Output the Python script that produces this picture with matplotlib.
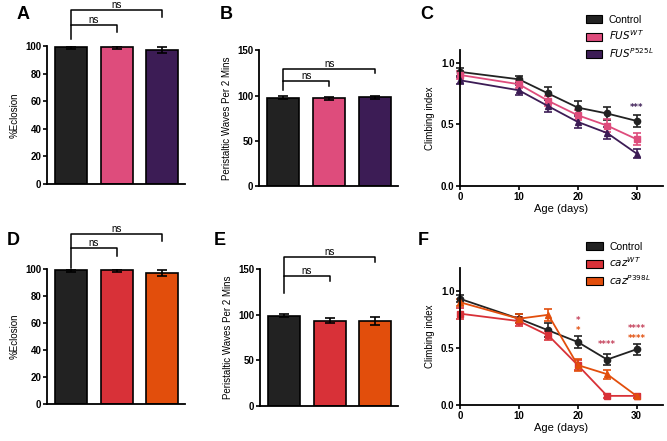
import matplotlib
matplotlib.use("Agg")
import matplotlib.pyplot as plt
from matplotlib.patches import Patch

plt.rcParams['font.family'] = ['Liberation Sans Narrow', 'Liberation Sans', 'DejaVu Sans']
plt.rcParams['mathtext.fontset'] = 'custom'
plt.rcParams['mathtext.it'] = 'Liberation Sans Narrow:italic'
plt.rcParams['mathtext.rm'] = 'Liberation Sans Narrow'

# ---- data ----
groups = ['Control', 'WT', 'Mutant']
eclosion_fus = [99, 99, 97]
eclosion_fus_err = [1.0, 1.0, 2.0]
waves_fus = [97.5, 97, 98]
waves_fus_err = [1.5, 1.5, 1.5]
eclosion_caz = [99, 99, 97]
eclosion_caz_err = [1.0, 1.0, 2.0]
waves_caz = [99, 93.5, 93]
waves_caz_err = [1.5, 3.0, 4.0]

days = [0, 10, 15, 20, 25, 30]
climb_fus_ctrl = [0.925, 0.865, 0.75, 0.636, 0.588, 0.528]
climb_fus_ctrl_err = [0.03, 0.03, 0.05, 0.05, 0.05, 0.05]
climb_fus_wt = [0.90, 0.825, 0.69, 0.574, 0.49, 0.38]
climb_fus_wt_err = [0.03, 0.03, 0.04, 0.04, 0.05, 0.05]
climb_fus_mut = [0.857, 0.776, 0.647, 0.52, 0.43, 0.264]
climb_fus_mut_err = [0.03, 0.04, 0.05, 0.05, 0.05, 0.04]

climb_caz_ctrl = [0.93, 0.756, 0.654, 0.552, 0.398, 0.488]
climb_caz_ctrl_err = [0.03, 0.04, 0.06, 0.05, 0.05, 0.05]
climb_caz_wt = [0.80, 0.735, 0.61, 0.35, 0.08, 0.08]
climb_caz_wt_err = [0.05, 0.04, 0.04, 0.04, 0.02, 0.02]
climb_caz_mut = [0.90, 0.756, 0.79, 0.35, 0.27, 0.08]
climb_caz_mut_err = [0.03, 0.04, 0.05, 0.05, 0.04, 0.02]

BLACK = '#222222'
PINK = '#DE4C7C'
PURPLE = '#3C1C55'
RED = '#D83138'
ORANGE = '#E24E0C'

fig = plt.figure(figsize=(6.67, 4.41), dpi=100)


def style_axis(ax):
    for s in ['top', 'right']:
        ax.spines[s].set_visible(False)
    for s in ['left', 'bottom']:
        ax.spines[s].set_linewidth(1.3)
    ax.tick_params(direction='out', length=3, width=1.2, labelsize=7, pad=1)
    for lab in ax.get_yticklabels() + ax.get_xticklabels():
        lab.set_fontweight('bold')


def bracket(ax, x0, x1, y_top, y_left, y_right, text):
    ax.plot([x0, x0, x1, x1], [y_left, y_top, y_top, y_right],
            color='black', lw=1.1, clip_on=False)
    ax.text((x0 + x1) / 2, y_top, text, ha='center', va='bottom', fontsize=7)


def bar_panel(rect, vals, errs, colors, ylim, yticks, ylabel, brackets):
    ax = fig.add_axes(rect)
    x = list(range(len(vals)))
    ax.bar(x, vals, width=0.7, color=colors, edgecolor='black', linewidth=1.2,
           yerr=errs, capsize=3.5, error_kw=dict(elinewidth=1.2, capthick=1.2))
    ax.set_xlim(-0.53, 2.5)
    ax.set_ylim(*ylim)
    ax.set_yticks(yticks)
    ax.set_xticks([])
    ax.set_ylabel(ylabel, fontsize=7, labelpad=4)
    style_axis(ax)
    for b in brackets:
        bracket(ax, *b)
    return ax


def line_panel(rect, series, ylim, stars, legend_labels, legend_anchor):
    ax = fig.add_axes(rect)
    markers = ['o', 's', '^']
    for (vals, errs, col), m in zip(series, markers):
        ax.errorbar(days, vals, yerr=errs, color=col, marker=m, markersize=4.5,
                    lw=1.3, capsize=3, elinewidth=1.2, capthick=1.2, clip_on=False)
    ax.set_xlim(0, 34.5)
    ax.set_ylim(*ylim)
    ax.set_xticks([0, 10, 20, 30])
    ax.set_yticks([0.0, 0.5, 1.0])
    ax.set_ylabel('Climbing index', fontsize=7, labelpad=4)
    ax.set_xlabel('Age (days)', fontsize=8, labelpad=2)
    style_axis(ax)
    for xs, ys, txt, col in stars:
        ax.text(xs, ys, txt, ha='center', va='center', color=col, fontsize=6,
                fontweight='bold', family='DejaVu Sans')
    handles = [Patch(facecolor=c, edgecolor='black', linewidth=0.8) for _, _, c in series]
    fig.legend(handles, legend_labels, loc='center left', bbox_to_anchor=legend_anchor,
               frameon=False, fontsize=7.5, handlelength=1.6, handleheight=0.8,
               handletextpad=0.6, labelspacing=0.35, borderaxespad=0)
    return ax


# panel A
bar_panel([0.0705, 0.5828, 0.207, 0.313], eclosion_fus, eclosion_fus_err,
          [BLACK, PINK, PURPLE], (0, 100), [0, 20, 40, 60, 80, 100], '%Eclosion',
          [(0, 1, 115.4, 105, 110, 'ns'), (0, 2, 126, 115, 121, 'ns')])
# panel B
bar_panel([0.3883, 0.578, 0.2084, 0.308], waves_fus, waves_fus_err,
          [BLACK, PINK, PURPLE], (0, 150), [0, 50, 100, 150],
          'Peristaltic Waves Per 2 Mins',
          [(0, 1, 115.8, 106.6, 111, 'ns'), (0, 2, 129.8, 115.8, 125, 'ns')])
# panel D
bar_panel([0.0705, 0.0839, 0.207, 0.306], eclosion_caz, eclosion_caz_err,
          [BLACK, RED, ORANGE], (0, 100), [0, 20, 40, 60, 80, 100], '%Eclosion',
          [(0, 1, 115.4, 101, 110, 'ns'), (0, 2, 126, 115.4, 121, 'ns')])
# panel E
bar_panel([0.3898, 0.0794, 0.207, 0.3107], waves_caz, waves_caz_err,
          [BLACK, RED, ORANGE], (0, 150), [0, 50, 100, 150],
          'Peristaltic Waves Per 2 Mins',
          [(0, 1, 142, 123.6, 137, 'ns'), (0, 2, 163, 142, 158, 'ns')])

# panel C
line_panel([0.6897, 0.578, 0.3043, 0.308],
           [(climb_fus_ctrl, climb_fus_ctrl_err, BLACK),
            (climb_fus_wt, climb_fus_wt_err, PINK),
            (climb_fus_mut, climb_fus_mut_err, PURPLE)],
           (0, 1.1), [(30, 0.64, '***', PURPLE)],
           ['Control', r'$\mathit{FUS}^{\mathit{WT}}$', r'$\mathit{FUS}^{\mathit{P525L}}$'],
           (0.872, 0.915))
# panel F
line_panel([0.6897, 0.0816, 0.3043, 0.3107],
           [(climb_caz_ctrl, climb_caz_ctrl_err, BLACK),
            (climb_caz_wt, climb_caz_wt_err, RED),
            (climb_caz_mut, climb_caz_mut_err, ORANGE)],
           (0, 1.2),
           [(20, 0.74, '*', '#C4405A'), (20, 0.655, '*', ORANGE),
            (25, 0.53, '****', '#C4405A'),
            (30, 0.67, '****', '#C4405A'), (30, 0.585, '****', ORANGE)],
           ['Control', r'$\mathit{caz}^{\mathit{WT}}$', r'$\mathit{caz}^{\mathit{P398L}}$'],
           (0.873, 0.401))

# panel letters
for lab, xx, yy in [('A', 0.025, 0.968), ('B', 0.33, 0.968), ('C', 0.63, 0.968),
                    ('D', 0.01, 0.455), ('E', 0.32, 0.455), ('F', 0.627, 0.455)]:
    fig.text(xx, yy, lab, fontsize=13, fontweight='bold', family='Liberation Sans',
             ha='left', va='center')

fig.savefig('out.png', dpi=100)
